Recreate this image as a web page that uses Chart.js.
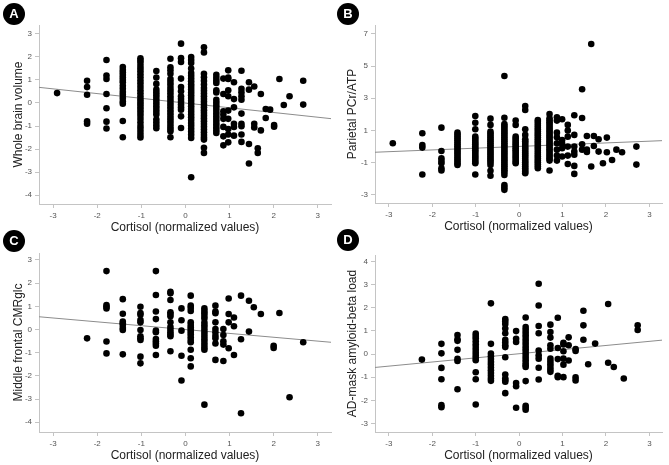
<!DOCTYPE html>
<html><head><meta charset="utf-8">
<script src="https://cdn.jsdelivr.net/npm/chart.js@4"></script>
<style>
html,body{margin:0;padding:0;background:#fff;width:669px;height:465px;overflow:hidden;position:relative;font-family:"Liberation Sans",Arial,sans-serif}
.pane{position:absolute}
.tag{position:absolute;width:22px;height:22px;border-radius:50%;background:#000;color:#fff;font:bold 13px "Liberation Sans",Arial,sans-serif;text-align:center;line-height:22px}
</style></head><body>
<div class="pane" id="pA"><canvas id="cA"></canvas></div>
<div class="pane" id="pB"><canvas id="cB"></canvas></div>
<div class="pane" id="pC"><canvas id="cC"></canvas></div>
<div class="pane" id="pD"><canvas id="cD"></canvas></div>
<div class="tag" style="left:3px;top:3px">A</div>
<div class="tag" style="left:337px;top:3px">B</div>
<div class="tag" style="left:3px;top:230px">C</div>
<div class="tag" style="left:337px;top:229px">D</div>
<script>
// ---------- DATA ----------
const xTitle = 'Cortisol (normalized values)';
const xTicks = [-3, -2, -1, 0, 1, 2, 3];

// Panel A: Whole brain volume
const aTitle = 'Whole brain volume';
const aTicks = [-4, -3, -2, -1, 0, 1, 2, 3];
const aCols = [-2.91, -2.23, -1.79, -1.42, -1.02, -0.66, -0.34, -0.10, 0.13, 0.42, 0.70, 0.86, 0.97, 1.10, 1.27, 1.44, 1.56, 1.64, 1.71, 1.82, 1.92, 2.01, 2.13, 2.23, 2.36, 2.67];
const aVals = [
  [0.43],
  [0.97, 0.69, 0.36, -0.80, -0.90],
  [1.87, 1.19, 1.04, 0.39, -0.23, -0.81, -1.11],
  [1.56, 1.43, 1.33, 1.22, 1.11, 1.0, 0.9, 0.75, 0.62, 0.48, 0.36, 0.22, 0.07, -0.03, -0.78, -1.49],
  [1.94, 1.85, 1.75, 1.62, 1.5, 1.38, 1.25, 1.12, 0.98, 0.85, 0.7, 0.55, 0.42, 0.28, 0.15, 0.04, -0.06, -0.18, -0.3, -0.42, -0.55, -0.7, -0.85, -1.0, -1.12, -1.25, -1.38, -1.5],
  [1.39, 1.11, 0.83, 0.58, 0.46, 0.34, 0.22, 0.1, -0.02, -0.14, -0.26, -0.38, -0.5, -0.72, -0.85, -0.98, -1.1],
  [1.92, 1.55, 1.42, 1.27, 1.04, 0.92, 0.8, 0.66, 0.54, 0.42, 0.29, 0.17, 0.05, -0.07, -0.19, -0.31, -0.43, -0.55, -0.67, -0.79, -0.91, -1.03, -1.13, -1.23, -1.49],
  [2.58, 1.95, 1.78, 1.06, 0.69, 0.51, 0.29, 0.17, 0.05, -0.07, -0.18, -0.29, -0.58, -1.09],
  [2.0, 1.87, 1.74, 1.5, 1.3, 1.18, 1.06, 0.94, 0.82, 0.7, 0.58, 0.46, 0.34, 0.22, 0.1, -0.02, -0.14, -0.26, -0.38, -0.5, -0.62, -0.74, -0.87, -0.99, -1.12, -1.25, -1.38, -1.52, -3.23],
  [2.42, 2.2, 1.27, 1.12, 0.96, 0.8, 0.65, 0.53, 0.41, 0.29, 0.17, 0.05, -0.07, -0.19, -0.31, -0.43, -0.55, -0.67, -0.79, -0.91, -1.03, -1.15, -1.27, -1.39, -1.5, -1.59, -1.95, -2.17],
  [1.23, 1.1, 0.98, 0.87, 0.55, 0.46, 0.14, 0.02, -0.1, -0.22, -0.34, -0.46, -0.58, -0.7, -0.82, -0.94, -1.06, -1.18, -1.3],
  [1.06, 0.39, -0.36, -0.51, -0.69, -1.04, -1.45, -1.84],
  [1.42, 1.11, 1.04, 0.55, 0.29, -0.33, -0.69, -1.13, -1.37, -1.71],
  [0.9, 0.17, -0.19, -0.9, -1.04, -1.42],
  [1.40, 0.62, 0.46, 0.29, 0.14, -0.46, -0.9, -1.01, -1.37, -1.69],
  [0.9, 0.58, -1.78, -2.63],
  [0.72, -0.9, -1.06],
  [-1.97, -2.17],
  [0.39, -1.19],
  [-0.26, -0.65],
  [-0.29],
  [-0.96, -1.03],
  [1.04],
  [-0.09],
  [0.29],
  [0.97, -0.07]
];
const aLineX = [-3.32, 3.30];
const aLineY = [0.68, -0.68];

// Panel B: Parietal PCr/ATP
const bTitle = 'Parietal PCr/ATP';
const bTicks = [-3, -1, 1, 3, 5, 7];
const bCols = [-2.91, -2.23, -1.79, -1.42, -1.01, -0.66, -0.34, -0.08, 0.14, 0.43, 0.70, 0.87, 0.99, 1.12, 1.27, 1.45, 1.56, 1.66, 1.72, 1.83, 1.93, 2.02, 2.14, 2.24, 2.37, 2.70];
const bVals = [
  [0.2],
  [0.82, 0.09, -0.07, -1.75],
  [1.17, -0.28, -0.74, -0.9, -1.05, -1.36, -1.5],
  [0.86, 0.74, 0.62, 0.5, 0.38, 0.26, 0.14, 0.02, -0.1, -0.22, -0.34, -0.46, -0.58, -0.7, -0.82, -0.94, -1.06, -1.15],
  [1.9, 1.48, 1.07, 0.61, 0.49, 0.37, 0.25, 0.13, 0.01, -0.11, -0.23, -0.35, -0.47, -0.59, -0.71, -0.83, -0.95, -1.05, -1.75],
  [1.73, 1.34, 0.92, 0.8, 0.68, 0.56, 0.44, 0.32, 0.2, 0.08, -0.04, -0.16, -0.28, -0.4, -0.52, -0.64, -0.76, -0.88, -1.0, -1.15, -1.52, -1.82],
  [4.39, 1.79, 1.4, 1.28, 1.16, 1.04, 0.92, 0.8, 0.68, 0.56, 0.44, 0.32, 0.2, 0.08, -0.04, -0.16, -0.28, -0.4, -0.52, -0.64, -0.76, -0.88, -1.0, -1.12, -1.24, -1.36, -1.48, -1.6, -1.77, -2.4, -2.55, -2.7],
  [1.61, 1.34, 0.61, 0.49, 0.37, 0.25, 0.13, 0.01, -0.11, -0.23, -0.35, -0.47, -0.59, -0.71, -0.83, -0.95, -1.05],
  [2.52, 2.27, 1.07, 0.72, 0.45, 0.33, 0.21, 0.09, -0.03, -0.15, -0.27, -0.39, -0.51, -0.63, -0.75, -0.87, -0.99, -1.11, -1.23, -1.35, -1.47, -1.57, -1.67],
  [1.65, 1.53, 1.41, 1.29, 1.17, 1.05, 0.93, 0.81, 0.69, 0.57, 0.45, 0.33, 0.21, 0.09, -0.03, -0.15, -0.27, -0.39, -0.51, -0.63, -0.75, -0.87, -0.99, -1.11, -1.23, -1.36],
  [2.02, 1.75, 1.63, 1.51, 1.39, 1.27, 1.15, 1.03, 0.91, 0.79, 0.67, 0.55, 0.43, 0.31, 0.19, 0.07, -0.05, -0.17, -0.29, -0.41, -0.53, -0.65, -0.77, -0.88, -1.5],
  [1.82, 1.61, 0.86, 0.57, 0.2, -0.2, -0.57, -0.88],
  [1.69, 0.4, 0.16, -0.11, -0.63],
  [1.34, 0.99, 0.61, -0.01, -0.57, -1.09],
  [1.94, 0.72, -0.01, -0.32, -0.51, -1.21, -1.71],
  [3.56, 1.77, 0.13, -0.2],
  [0.65, -0.2, -0.34],
  [6.38, -1.25],
  [0.65, 0.03],
  [0.45, -0.32],
  [-1.05],
  [0.55, -0.36],
  [-0.84],
  [-0.2],
  [-0.36],
  [-0.01, -1.13]
];
const bLineX = [-3.32, 3.29];
const bLineY = [-0.36, 0.36];

// Panel C: Middle frontal CMRglc
const cTitle = 'Middle frontal CMRglc';
const cTicks = [-4, -3, -2, -1, 0, 1, 2, 3];
const cCols = [-2.23, -1.79, -1.42, -1.02, -0.67, -0.34, -0.09, 0.12, 0.43, 0.68, 0.86, 0.98, 1.10, 1.26, 1.44, 1.55, 1.71, 2.0, 2.13, 2.36, 2.67];
const cVals = [
  [-0.38],
  [2.52, 1.06, 0.98, 0.91, -0.52, -1.03],
  [1.31, 0.68, 0.34, 0.27, 0.19, 0.06, -0.02, -1.07],
  [0.98, 0.71, 0.64, 0.41, 0.31, -0.02, -0.29, -0.38, -0.45, -1.17, -1.46],
  [2.52, 1.49, 0.78, 0.45, -0.05, -0.12, -0.41, -0.51, -0.6, -0.7, -1.1],
  [1.63, 1.56, 1.27, 0.74, 0.67, 0.57, 0.31, 0.11, -0.01, -0.12, -0.21, -0.29, -0.94],
  [0.91, 0.4, -0.05, -1.13, -2.2],
  [1.46, 1.03, 0.93, 0.8, 0.31, 0.2, 0.1, 0.0, -0.1, -0.2, -0.33, -0.45, -0.55, -0.87, -1.24, -1.59],
  [0.91, 0.8, 0.7, 0.58, 0.47, 0.3, 0.18, 0.06, -0.06, -0.18, -0.3, -0.42, -0.54, -0.66, -0.78, -0.87, -3.24],
  [1.03, 0.78, 0.7, 0.31, 0.02, -0.12, -0.27, -0.38, -0.6, -1.31],
  [0.02, -0.24, -0.51, -0.65, -1.36],
  [1.34, 0.67, 0.31, -0.81],
  [0.52, 0.14, -1.1],
  [1.46, -0.42, -3.61],
  [1.24, -0.09],
  [0.96],
  [0.67],
  [-0.7, -0.8],
  [0.71],
  [-2.92],
  [-0.55]
];
const cLineX = [-3.32, 3.30];
const cLineY = [0.55, -0.55];

// Panel D: AD-mask amyloid-beta load
const dTitle = 'AD-mask amyloid-beta load';
const dTicks = [-3, -2, -1, 0, 1, 2, 3, 4];
const dCols = [-2.24, -1.79, -1.42, -1.0, -0.65, -0.32, -0.07, 0.15, 0.45, 0.72, 0.89, 1.02, 1.14, 1.30, 1.48, 1.59, 1.75, 2.05, 2.18, 2.41, 2.73];
const dVals = [
  [-0.24],
  [0.44, 0.03, -0.6, -1.09, -2.21, -2.3],
  [0.82, 0.64, 0.57, 0.18, -0.21, -0.3, -1.52],
  [0.88, 0.78, 0.68, 0.55, 0.42, 0.3, 0.18, 0.06, -0.06, -0.17, -0.27, -0.79, -1.09, -2.18],
  [2.19, 0.44, 0.02, -0.1, -0.22, -0.34, -0.46, -0.58, -0.7, -0.82, -0.94, -1.06, -1.16],
  [1.51, 1.42, 1.3, 1.1, 0.9, 0.62, 0.5, 0.38, 0.3, -0.14, -0.89, -1.06, -1.13, -1.2, -1.69],
  [0.99, 0.66, 0.52, -1.25, -1.39, -2.32],
  [1.58, 1.17, 1.05, 0.93, 0.81, 0.69, 0.57, 0.45, 0.33, 0.21, 0.09, -0.03, -0.15, -0.27, -0.39, -0.48, -0.56, -1.17, -2.24, -2.32, -2.41],
  [3.04, 2.1, 1.21, 0.9, 0.15, -0.05, -0.2, -0.59, -1.1],
  [1.27, 0.95, 0.71, 0.38, 0.23, -0.2, -0.32, -0.44, -0.56, -0.67, -0.77],
  [1.57, 0.26, -0.22, -0.94, -1.0],
  [0.48, 0.41, 0.12, -0.2, -0.46, -1.0],
  [0.72, 0.38, -0.28],
  [0.21, 0.13, -1.01, -1.14],
  [1.87, 1.24, 0.62],
  [-0.44],
  [0.45],
  [2.16, -0.38],
  [-0.56],
  [-1.06],
  [1.24, 1.04]
];
const dLineX = [-3.32, 3.29];
const dLineY = [-0.58, 0.60];

// ---------- DRAWING ----------
const FAM = '"Liberation Sans", Arial, sans-serif';
function pts(cols, vals) {
  const out = [];
  cols.forEach((x, i) => vals[i].forEach(y => out.push({x: x, y: y})));
  return out;
}
function makePanel(id, cols, vals, lx, ly, yTicks, yTitle, g) {
  const wrap = document.getElementById('p' + id);
  wrap.style.left = g.left + 'px'; wrap.style.top = g.top + 'px';
  wrap.style.width = g.w + 'px'; wrap.style.height = g.h + 'px';
  const cv = document.getElementById('c' + id);
  cv.width = g.w; cv.height = g.h;
  cv.style.width = g.w + 'px'; cv.style.height = g.h + 'px';
  new Chart(cv, {
    type: 'scatter',
    data: {
      datasets: [
        {type: 'scatter', data: pts(cols, vals), backgroundColor: '#000', borderColor: '#000', pointRadius: 3.3, pointBorderWidth: 0, order: 0},
        {type: 'line', data: [{x: lx[0], y: ly[0]}, {x: lx[1], y: ly[1]}], borderColor: '#8c8c8c', borderWidth: 1, pointRadius: 0, fill: false, order: 1}
      ]
    },
    options: {
      responsive: false, animation: false, devicePixelRatio: 1,
      layout: {padding: {top: g.padTop, right: g.padRight, left: 0, bottom: 0}},
      plugins: {legend: {display: false}, tooltip: {enabled: false}},
      scales: {
        x: {
          type: 'linear', position: 'bottom', min: g.xMin, max: g.xMax,
          afterBuildTicks: s => { s.ticks = xTicks.map(v => ({value: v})); },
          afterFit: s => { s.height = g.xH; },
          grid: {display: true, drawOnChartArea: false, drawTicks: true, tickLength: 4, color: '#c4c4c4'},
          border: {display: true, color: '#c4c4c4', width: 1},
          ticks: {font: {size: 8, family: FAM}, color: '#555', padding: 3, maxRotation: 0, autoSkip: false},
          title: {display: true, text: xTitle, font: {size: 12, family: FAM}, color: '#222', padding: {top: 0, bottom: g.xTitlePad}}
        },
        y: {
          type: 'linear', position: 'left', min: g.yMin, max: g.yMax,
          afterBuildTicks: s => { s.ticks = yTicks.map(v => ({value: v})); },
          afterFit: s => { s.width = g.yW; },
          grid: {display: true, drawOnChartArea: false, drawTicks: true, tickLength: 4, color: '#c4c4c4'},
          border: {display: true, color: '#c4c4c4', width: 1},
          ticks: {font: {size: 8, family: FAM}, color: '#555', padding: 3, autoSkip: false},
          title: {display: true, text: yTitle, font: {size: 12, family: FAM}, color: '#222', padding: {top: g.yTitlePad, bottom: 0}}
        }
      }
    }
  });
}
makePanel('A', aCols, aVals, aLineX, aLineY, aTicks, aTitle,
  {left: 0, top: 0, w: 335, h: 240, padTop: 25, padRight: 3, yW: 39, xH: 36, xTitlePad: 4.8, yTitlePad: 11.8, xMin: -3.32, xMax: 3.30, yMin: -4.39, yMax: 3.39});
makePanel('B', bCols, bVals, bLineX, bLineY, bTicks, bTitle,
  {left: 335, top: 0, w: 334, h: 240, padTop: 25, padRight: 7, yW: 40, xH: 37, xTitlePad: 5.8, yTitlePad: 10.8, xMin: -3.32, xMax: 3.29, yMin: -3.52, yMax: 7.56});
makePanel('C', cCols, cVals, cLineX, cLineY, cTicks, cTitle,
  {left: 0, top: 228, w: 335, h: 237, padTop: 25, padRight: 3, yW: 39, xH: 33, xTitlePad: 1.8, yTitlePad: 11.1, xMin: -3.32, xMax: 3.30, yMin: -4.42, yMax: 3.30});
makePanel('D', dCols, dVals, dLineX, dLineY, dTicks, dTitle,
  {left: 335, top: 228, w: 334, h: 237, padTop: 27, padRight: 7, yW: 40, xH: 33, xTitlePad: 1.8, yTitlePad: 10.8, xMin: -3.32, xMax: 3.29, yMin: -3.37, yMax: 4.28});
</script>
</body></html>
